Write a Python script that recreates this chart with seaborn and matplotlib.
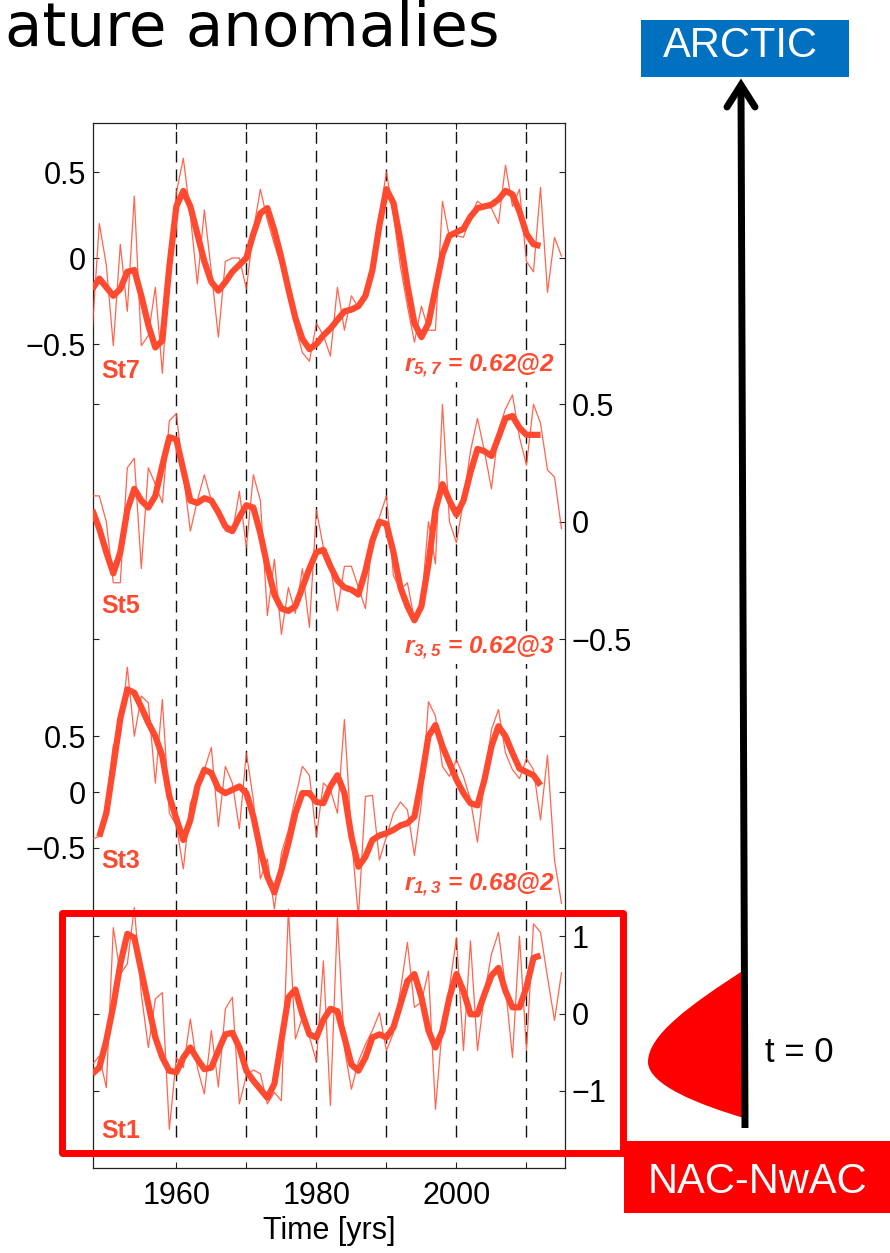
import numpy as np
import pandas as pd
import matplotlib
matplotlib.use('Agg')
from matplotlib import pyplot as plt
from matplotlib.patches import Rectangle, PathPatch
from matplotlib.path import Path
from matplotlib.lines import Line2D
import seaborn as sns

# ---------------------------------------------------------------- data
years_thin = list(range(1948, 2016))

st7_thin = [-0.42, 0.20, -0.04, -0.51, 0.08, -0.31, 0.36, -0.51, -0.45, -0.17,
            -0.67, -0.06, 0.38, 0.58, 0.25, -0.15, 0.28, -0.08, -0.46, -0.02,
            0.00, 0.00, -0.18, 0.16, 0.40, 0.22, 0.08, -0.05, -0.22, -0.40,
            -0.55, -0.60, -0.38, -0.45, -0.57, -0.17, -0.42, -0.22, -0.29, -0.22,
            -0.12, 0.24, 0.50, 0.25, -0.05, -0.28, -0.49, -0.28, -0.42, -0.42,
            0.33, 0.12, 0.13, 0.12, 0.24, 0.33, 0.30, 0.29, 0.20, 0.54,
            0.30, 0.40, -0.02, -0.08, 0.41, -0.20, 0.12, 0.01]
st7_thick = [-0.18, -0.12, -0.17, -0.22, -0.18, -0.08, -0.07, -0.22, -0.39, -0.52,
             -0.48, -0.05, 0.30, 0.39, 0.30, 0.14, -0.02, -0.14, -0.19, -0.14,
             -0.08, -0.04, 0.00, 0.14, 0.26, 0.29, 0.16, 0.00, -0.18, -0.35,
             -0.47, -0.53, -0.50, -0.45, -0.41, -0.36, -0.31, -0.30, -0.28, -0.22,
             -0.07, 0.19, 0.40, 0.32, 0.10, -0.16, -0.38, -0.46, -0.38, -0.18,
             0.02, 0.13, 0.15, 0.17, 0.24, 0.29, 0.30, 0.31, 0.34, 0.39,
             0.37, 0.27, 0.14, 0.08, 0.07]

st5_thin = [0.11, 0.11, 0.00, -0.26, -0.26, 0.23, 0.27, -0.20, 0.23, 0.16,
            0.08, 0.43, 0.46, 0.20, -0.04, 0.09, 0.20, 0.09, 0.04, -0.04,
            -0.05, 0.13, -0.11, 0.20, 0.09, -0.40, -0.16, -0.48, -0.28, -0.39,
            -0.20, -0.45, 0.05, -0.11, -0.19, -0.38, -0.19, -0.19, -0.28, -0.37,
            -0.06, 0.02, 0.11, -0.23, -0.29, -0.26, -0.42, -0.35, 0.00, -0.18,
            0.50, 0.00, -0.09, 0.09, 0.30, 0.44, 0.30, 0.14, 0.39, 0.48,
            0.54, 0.36, 0.24, 0.50, 0.42, 0.22, 0.19, -0.03]
st5_thick = [0.05, -0.03, -0.13, -0.22, -0.13, 0.05, 0.14, 0.09, 0.06, 0.11,
             0.24, 0.36, 0.35, 0.22, 0.09, 0.08, 0.10, 0.09, 0.04, -0.02,
             -0.04, 0.02, 0.07, 0.06, -0.05, -0.19, -0.31, -0.37, -0.38, -0.36,
             -0.28, -0.20, -0.13, -0.12, -0.19, -0.25, -0.28, -0.29, -0.31, -0.21,
             -0.08, 0.00, -0.01, -0.13, -0.28, -0.36, -0.42, -0.36, -0.18, 0.05,
             0.16, 0.09, 0.03, 0.09, 0.21, 0.31, 0.30, 0.28, 0.36, 0.44,
             0.45, 0.40, 0.37, 0.37, 0.37]

st3_thin = [-0.42, -0.40, -0.10, 0.42, 0.50, 1.12, 0.50, 0.86, 0.80, 0.08,
            0.83, -0.19, -0.30, -0.69, -0.10, 0.05, 0.20, 0.40, -0.31, 0.23,
            0.08, -0.33, 0.35, -0.07, -0.78, -0.60, -1.05, -0.55, -0.34, -0.05,
            0.23, 0.15, -0.40, 0.08, 0.02, -0.19, 0.65, -0.40, -1.12, -0.04,
            -0.03, -0.61, -0.40, -0.19, -0.09, -0.16, -0.57, -0.10, 0.81, 0.68,
            0.23, 0.14, 0.29, 0.14, -0.07, -0.45, 0.11, 0.56, 0.74, 0.35,
            0.20, 0.12, 0.30, 0.20, -0.25, 0.33, -0.61, -1.00]
st3_thick = [-0.40, -0.19, 0.23, 0.66, 0.92, 0.89, 0.76, 0.62, 0.50, 0.32,
             -0.04, -0.24, -0.43, -0.25, 0.05, 0.20, 0.17, 0.03, -0.01, 0.02,
             0.05, -0.01, -0.22, -0.52, -0.76, -0.90, -0.70, -0.46, -0.19, -0.01,
             -0.01, -0.09, -0.10, 0.05, 0.15, -0.01, -0.40, -0.67, -0.58, -0.43,
             -0.39, -0.37, -0.34, -0.30, -0.28, -0.22, 0.11, 0.50, 0.60, 0.41,
             0.26, 0.11, -0.01, -0.10, -0.12, 0.11, 0.41, 0.59, 0.50, 0.35,
             0.21, 0.18, 0.15, 0.06]

st1_thin = [-0.66, -0.55, -0.96, 1.11, 0.51, 0.64, 1.37, 0.25, -0.44, 0.19,
            0.27, -1.50, -0.57, -0.70, -0.07, -0.70, -1.04, -0.22, -0.95, 0.06,
            0.21, -1.17, -0.80, -0.73, -0.78, -1.17, -1.02, -1.13, 1.35, -0.33,
            -0.05, -0.30, -0.62, 0.68, -1.19, 1.24, -0.45, -0.98, -0.62, -0.40,
            -0.22, 0.01, -0.48, -0.25, 0.30, 0.92, 0.08, 0.15, 0.55, -1.24,
            -0.15, 0.34, 0.98, -0.48, 0.94, -0.48, 0.25, 0.77, 1.05, 0.34,
            -0.57, 1.00, -0.48, 1.16, 1.05, 0.47, -0.09, 0.53]
st1_thick = [-0.78, -0.70, -0.35, 0.10, 0.64, 1.03, 0.98, 0.55, 0.12, -0.31,
             -0.57, -0.74, -0.76, -0.57, -0.44, -0.59, -0.72, -0.70, -0.48, -0.27,
             -0.25, -0.44, -0.74, -0.87, -0.98, -1.09, -0.91, -0.35, 0.21, 0.31,
             -0.01, -0.27, -0.31, -0.08, 0.06, 0.03, -0.31, -0.66, -0.74, -0.57,
             -0.31, -0.27, -0.31, -0.18, 0.12, 0.42, 0.51, 0.21, -0.22, -0.44,
             -0.22, 0.21, 0.51, 0.29, -0.01, -0.01, 0.25, 0.49, 0.59, 0.29,
             0.08, 0.08, 0.34, 0.72, 0.75]

thick_start = {'St7': 1948, 'St5': 1948, 'St3': 1949, 'St1': 1948}
decades = [1960, 1970, 1980, 1990, 2000, 2010]
decade_labels = ['1960', '', '1980', '', '2000', '']
corr_labels = {'St7': r'$r_{5,7}$ = 0.62@2', 'St5': r'$r_{3,5}$ = 0.62@3', 'St3': r'$r_{1,3}$ = 0.68@2'}

# ---------------------------------------------------------------- style
sns.set_theme(style='white')
plt.rcParams['font.family'] = ['Liberation Sans', 'DejaVu Sans']
plt.rcParams['mathtext.fontset'] = 'custom'
plt.rcParams['mathtext.it'] = 'Liberation Sans:italic:bold'
plt.rcParams['mathtext.rm'] = 'Liberation Sans:italic:bold'
plt.rcParams['text.color'] = 'black'
plt.rcParams['axes.labelcolor'] = 'black'
plt.rcParams['xtick.color'] = 'black'
plt.rcParams['ytick.color'] = 'black'

RED = '#FF4A30'
W, H = 890, 1253
fig = plt.figure(figsize=(W / 100, H / 100), dpi=100)


def fx(px):
    return px / W


def fy(py):
    return 1 - py / H


# frame box in pixels
X0, X1, YT, YB = 93, 565, 123, 1168
box = [fx(X0), fy(YB), fx(X1) - fx(X0), fy(YT) - fy(YB)]
XLIM = (1948.1, 2015.5)

base = fig.add_axes(box)
base.set_xlim(*XLIM)
base.set_ylim(0, 1)
for d in decades:
    base.axvline(d, ymin=(YB - 1137) / (YB - YT), ymax=1, color='#111111', lw=1.0,
                 ls=(0, (8.5, 5)))
base.set_xticks(decades, labels=decade_labels)
base.set_yticks([])
base.tick_params(axis='x', direction='in', top=True, bottom=True, length=4, width=0.8,
                 labelsize=22, pad=9, color='#222222', labelcolor='black')
base.set_xlabel('Time [yrs]', fontsize=22, labelpad=4, color='black')
for s in base.spines.values():
    s.set_visible(True)
    s.set_color('#222222')
    s.set_linewidth(0.9)

# station panels: (name, thin, thick, zero pixel row, pixels per unit, label side, ticks)
panels = [
    ('St7', st7_thin, st7_thick, 258.0, 172.0, 'left', [-0.5, 0, 0.5], ['\u22120.5', '0', '0.5']),
    ('St5', st5_thin, st5_thick, 521.7, 234.8, 'right', [-0.5, 0, 0.5], ['\u22120.5', '0', '0.5']),
    ('St3', st3_thin, st3_thick, 792.0, 111.5, 'left', [-0.5, 0, 0.5], ['\u22120.5', '0', '0.5']),
    ('St1', st1_thin, st1_thick, 1013.5, 77.3, 'right', [-1, 0, 1], ['\u22121', '0', '1']),
]

for name, thin, thick, y0, scale, side, ticks, tlabels in panels:
    ax = fig.add_axes(box)
    ax.patch.set_visible(False)
    df_thin = pd.DataFrame({'year': years_thin, 'value': thin})
    ty = list(range(thick_start[name], thick_start[name] + len(thick)))
    df_thick = pd.DataFrame({'year': ty, 'value': thick})
    sns.lineplot(data=df_thin, x='year', y='value', ax=ax, color=RED, lw=0.9, alpha=0.85)
    sns.lineplot(data=df_thick, x='year', y='value', ax=ax, color=RED, lw=4.5,
                 solid_capstyle='butt', solid_joinstyle='round')
    ax.set(xlabel='', ylabel='')
    ax.set_xlim(*XLIM)
    ax.set_ylim(-(YB - y0) / scale, (y0 - YT) / scale)
    for s in ax.spines.values():
        s.set_visible(False)
    ax.set_xticks([])
    ax.set_yticks(ticks, labels=tlabels)
    ax.tick_params(axis='y', direction='in', left=True, right=True,
                   labelleft=(side == 'left'), labelright=(side == 'right'),
                   length=4, width=0.8, labelsize=22, pad=5, color='#222222',
                   labelcolor='black')

# station names and correlation labels (white background hides lines)
name_pos = {'St7': 378, 'St5': 613, 'St3': 868, 'St1': 1138}
for name, yb in name_pos.items():
    fig.text(fx(101), fy(yb), name, color=RED, fontsize=18, fontweight='bold',
             ha='left', va='baseline',
             bbox=dict(facecolor='white', edgecolor='none', pad=1.0))
corr_pos = {'St7': 372, 'St5': 654, 'St3': 891}
for name, yb in corr_pos.items():
    fig.text(fx(554), fy(yb), corr_labels[name], color=RED, fontsize=17.5,
             fontweight='bold', style='italic', ha='right', va='baseline',
             bbox=dict(facecolor='white', edgecolor='none', pad=1.0))

# title fragment visible on the slide
fig.text(fx(500), fy(46), 'ature anomalies', ha='right', va='baseline',
         fontsize=44, family='DejaVu Sans', color='black')

# red highlight box around St1
fig.add_artist(Rectangle((fx(62), fy(1153)), fx(623) - fx(62), fy(913) - fy(1153),
                         transform=fig.transFigure, fill=False, edgecolor='#FF0000',
                         lw=5, joinstyle='round', zorder=5))

# NAC-NwAC and ARCTIC boxes
fig.add_artist(Rectangle((fx(624), fy(1213)), fx(890) - fx(624), fy(1141) - fy(1213),
                         transform=fig.transFigure, facecolor='#FF0000', edgecolor='none', zorder=6))
fig.text(fx(757), fy(1193), 'NAC-NwAC', color='white', fontsize=30, ha='center',
         va='baseline', zorder=7)
fig.add_artist(Rectangle((fx(641), fy(77)), fx(849) - fx(641), fy(20) - fy(77),
                         transform=fig.transFigure, facecolor='#0070C0', edgecolor='none', zorder=6))
fig.text(fx(740), fy(57), 'ARCTIC', color='white', fontsize=30, ha='center',
         va='baseline', zorder=7)

# arrow NAC -> Arctic
fig.add_artist(Line2D([fx(745), fx(741)], [fy(1128), fy(88)], transform=fig.transFigure,
                      color='black', lw=5, solid_capstyle='butt', zorder=6))
fig.add_artist(Line2D([fx(727), fx(741), fx(755)], [fy(107), fy(85), fy(107)],
                      transform=fig.transFigure, color='black', lw=5,
                      solid_capstyle='round', solid_joinstyle='miter', zorder=6))

# initial anomaly shape at t = 0
verts = [(744, 970), (690, 1005), (648, 1035), (648, 1062),
         (648, 1085), (700, 1105), (744, 1118), (744, 970)]
codes = [Path.MOVETO, Path.CURVE4, Path.CURVE4, Path.CURVE4,
         Path.CURVE4, Path.CURVE4, Path.CURVE4, Path.CLOSEPOLY]
blob = Path([(fx(a), fy(b)) for a, b in verts], codes)
fig.add_artist(PathPatch(blob, transform=fig.transFigure, facecolor='#FF0000',
                         edgecolor='none', zorder=5))
fig.text(fx(765), fy(1062), 't = 0', color='black', fontsize=25, ha='left', va='baseline')

fig.savefig('out.png', dpi=100)
